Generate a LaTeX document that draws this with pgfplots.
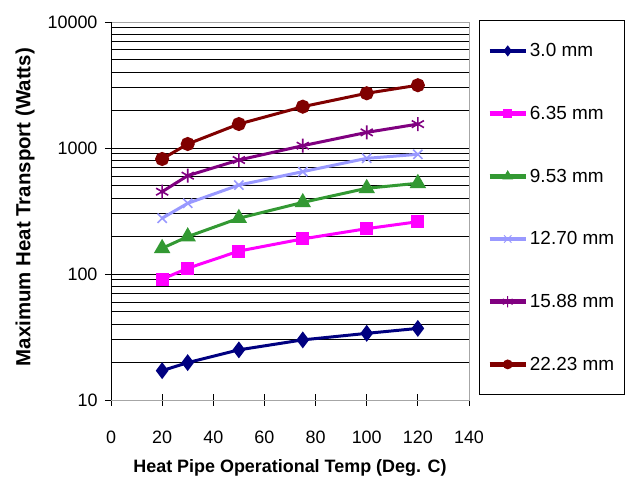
\documentclass[border=0pt]{standalone}
\usepackage{fontspec}
\setmainfont{Liberation Sans}
\usepackage{pgfplots}
\pgfplotsset{compat=1.18}

\definecolor{cNavy}{RGB}{0,0,128}
\definecolor{cMag}{RGB}{255,0,255}
\definecolor{cGreen}{RGB}{51,153,51}
\definecolor{cLBlue}{RGB}{153,153,255}
\definecolor{cPurp}{RGB}{128,0,128}
\definecolor{cDRed}{RGB}{128,0,0}

\begin{document}
\begin{tikzpicture}
\useasboundingbox (-111bp,-87bp) rectangle (522bp,400bp);
\begin{axis}[
    scale only axis,
    width=358bp,
    height=378bp,
    ymode=log,
    xmin=0, xmax=140,
    ymin=10, ymax=10000,
    xtick={0,20,...,140},
    ytick={10,100,1000,10000},
    yticklabels={10,100,1000,10000},
    xtick pos=bottom,
    ytick pos=left,
    tick align=center,
    major tick length=12bp,
    minor tick length=0bp,
    tick style={black, line width=0.8bp},
    ymajorgrids, yminorgrids,
    major grid style={black, line width=0.9bp},
    minor grid style={black, line width=0.9bp},
    axis line style={draw=gray!70, line width=0.9bp},
    /pgf/number format/assume math mode=true,
    tick label style={font=\fontsize{18}{19}\selectfont},
    xticklabel style={yshift=-21bp},
    yticklabel style={xshift=-4bp},
    xlabel={\bfseries Heat Pipe Operational Temp (Deg. C)},
    ylabel={\bfseries Maximum Heat Transport (Watts)},
    x label style={at={(axis description cs:0.5,-0.18)}, anchor=center, font=\fontsize{18}{20}\selectfont},
    y label style={at={(axis description cs:-0.24,0.51)}, anchor=center, font=\fontsize{20.5}{22}\selectfont},
    legend style={at={(1.028,1.005)}, anchor=north west, draw=black, line width=0.9bp,
        inner xsep=8bp, inner ysep=21bp, row sep=44bp,
        font=\fontsize{19}{20}\selectfont},
    legend cell align=left,
    legend image code/.code={
        \draw[line width=4.5bp, mark repeat=2, mark phase=2, mark options={scale=0.8, line width=1bp}]
            plot coordinates {(0bp,0bp) (18bp,0bp) (36bp,0bp)};
    },
    every axis plot/.append style={line width=3bp},
]
\addplot[cNavy, mark=diamond*, mark size=6bp] coordinates {
    (20,17.1) (30,19.8) (50,25) (75,30) (100,33.8) (120,37)};
\addplot[cMag, mark=square*, mark size=5bp] coordinates {
    (20,91) (30,111) (50,152) (75,190) (100,229) (120,260)};
\addplot[cGreen, mark=triangle*, mark size=6.5bp] coordinates {
    (20,160) (30,198) (50,277) (75,370) (100,479) (120,525)};
\addplot[cLBlue, mark=x, mark size=6.5bp, mark options={line width=1.6bp}] coordinates {
    (20,277) (30,364) (50,508) (75,649) (100,828) (120,891)};
\addplot[cPurp, mark=asterisk, mark size=7bp, mark options={line width=1.6bp}] coordinates {
    (20,450) (30,603) (50,803) (75,1043) (100,1330) (120,1548)};
\addplot[cDRed, mark=*, mark size=5.5bp] coordinates {
    (20,818) (30,1076) (50,1550) (75,2128) (100,2718) (120,3150)};
\legend{3.0 mm, 6.35 mm, 9.53 mm, 12.70 mm, 15.88 mm, 22.23 mm}
\draw[black, line width=0.9bp] (rel axis cs:0,1) -- (rel axis cs:0,0) -- (rel axis cs:1,0);
\end{axis}
\end{tikzpicture}
\end{document}
